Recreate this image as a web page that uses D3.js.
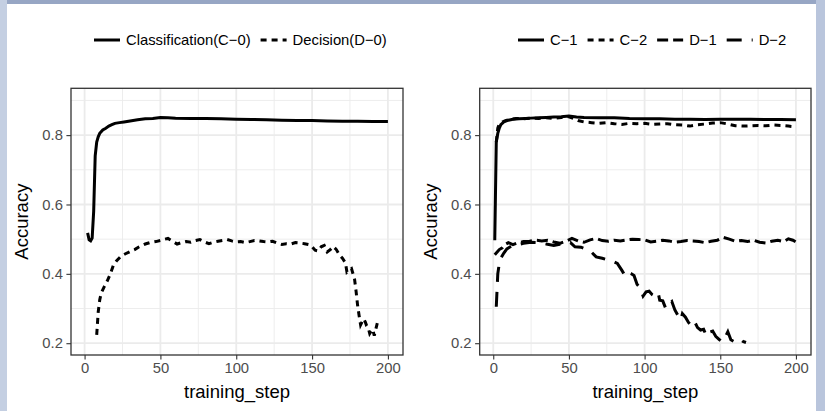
<!DOCTYPE html>
<html>
<head>
  <meta charset="utf-8">
  <title>Accuracy by training step</title>
  <script src="https://cdn.jsdelivr.net/npm/d3@7"></script>
  <style>
    body { margin: 0; background: #fff; }
    text { font-family: "Liberation Sans", Arial, sans-serif; }
  </style>
</head>
<body>
  <svg width="825" height="411" id="chart"></svg>
  <script>
    // ---- data ----
    const xTicks = [0, 50, 100, 150, 200];
    const yTicks = [0.2, 0.4, 0.6, 0.8];
    const xMinor = [25, 75, 125, 175];
    const yMinor = [0.3, 0.5, 0.7, 0.9];

    // left panel
    const c0Step = [2, 3, 4, 5, 6, 7, 8, 9, 10, 12, 14, 16, 18, 20, 23, 26, 30, 35, 40, 45, 50, 55, 60, 70, 80, 90, 100, 110, 120, 130, 140, 150, 160, 170, 180, 190, 200];
    const c0Acc = [0.518, 0.498, 0.495, 0.503, 0.58, 0.74, 0.78, 0.795, 0.805, 0.815, 0.82, 0.826, 0.830, 0.834, 0.836, 0.838, 0.841, 0.844, 0.847, 0.848, 0.851, 0.850, 0.849, 0.848, 0.848, 0.847, 0.846, 0.845, 0.844, 0.843, 0.842, 0.842, 0.841, 0.840, 0.840, 0.839, 0.839];

    const d0Step = [8, 9, 10, 11, 13, 15, 17, 19, 21, 24, 27, 30, 33, 36, 40, 43, 47, 50, 53, 55, 58, 61, 64, 67, 70, 73, 76, 79, 82, 85, 88, 91, 94, 97, 100, 103, 106, 109, 112, 115, 118, 121, 124, 127, 130, 133, 136, 139, 142, 145, 148, 150, 152, 154, 156, 158, 160, 162, 164, 166, 168, 170, 172, 173, 175, 176, 178, 179, 180, 181, 182, 183, 184, 185, 186, 187, 188, 189, 190, 191, 192, 193];
    const d0Acc = [0.224, 0.29, 0.325, 0.345, 0.363, 0.38, 0.40, 0.425, 0.437, 0.451, 0.458, 0.464, 0.47, 0.478, 0.486, 0.49, 0.493, 0.496, 0.500, 0.502, 0.494, 0.486, 0.49, 0.493, 0.491, 0.496, 0.499, 0.492, 0.487, 0.491, 0.494, 0.496, 0.499, 0.495, 0.492, 0.493, 0.49, 0.493, 0.496, 0.495, 0.493, 0.492, 0.494, 0.489, 0.485, 0.487, 0.486, 0.49, 0.489, 0.487, 0.484, 0.478, 0.468, 0.466, 0.478, 0.482, 0.463, 0.47, 0.479, 0.47, 0.455, 0.445, 0.432, 0.405, 0.412, 0.415, 0.385, 0.35, 0.31, 0.28, 0.253, 0.262, 0.27, 0.262, 0.25, 0.245, 0.228, 0.235, 0.24, 0.222, 0.24, 0.258];

    // right panel
    const c1Step = [1, 2, 3, 4, 5, 7, 10, 13, 17, 21, 25, 30, 35, 40, 45, 50, 55, 60, 70, 80, 90, 100, 110, 120, 130, 140, 150, 160, 170, 180, 190, 200];
    const c1Acc = [0.497, 0.78, 0.805, 0.82, 0.83, 0.838, 0.843, 0.846, 0.847, 0.848, 0.849, 0.850, 0.851, 0.852, 0.853, 0.855, 0.852, 0.851, 0.850, 0.850, 0.848, 0.847, 0.847, 0.846, 0.846, 0.845, 0.846, 0.846, 0.846, 0.845, 0.845, 0.844];

    const c2Step = [2, 3, 4, 6, 8, 11, 15, 20, 25, 30, 35, 40, 45, 50, 53, 56, 60, 65, 70, 75, 80, 85, 90, 95, 100, 105, 110, 115, 120, 125, 130, 135, 140, 145, 150, 155, 160, 165, 170, 175, 180, 185, 190, 195, 200];
    const c2Acc = [0.78, 0.82, 0.832, 0.838, 0.842, 0.845, 0.848, 0.847, 0.849, 0.848, 0.85, 0.848, 0.851, 0.853, 0.848, 0.842, 0.838, 0.836, 0.834, 0.836, 0.833, 0.831, 0.834, 0.833, 0.834, 0.831, 0.832, 0.833, 0.830, 0.829, 0.826, 0.83, 0.832, 0.835, 0.836, 0.832, 0.827, 0.826, 0.827, 0.828, 0.827, 0.829, 0.828, 0.826, 0.824];

    const d1Step = [1, 2, 4, 6, 8, 10, 13, 16, 20, 24, 28, 32, 36, 40, 44, 48, 52, 56, 60, 64, 68, 72, 76, 80, 84, 88, 92, 96, 100, 104, 108, 112, 116, 120, 124, 128, 132, 136, 140, 144, 148, 152, 156, 160, 164, 168, 172, 176, 180, 184, 188, 192, 195, 198, 200];
    const d1Acc = [0.455, 0.46, 0.47, 0.475, 0.485, 0.49, 0.484, 0.489, 0.493, 0.494, 0.497, 0.495, 0.497, 0.492, 0.488, 0.494, 0.502, 0.495, 0.491, 0.498, 0.502, 0.496, 0.494, 0.497, 0.495, 0.498, 0.5, 0.499, 0.498, 0.492, 0.494, 0.497, 0.495, 0.491, 0.493, 0.496, 0.495, 0.493, 0.49, 0.494, 0.497, 0.505, 0.5, 0.494, 0.496, 0.493, 0.497, 0.491, 0.489, 0.494, 0.497, 0.493, 0.501, 0.497, 0.492];

    const d2Step = [2, 3, 4, 5, 7, 9, 12, 16, 20, 25, 30, 35, 40, 44, 48, 51, 54, 58, 62, 65, 68, 72, 76, 79, 82, 85, 87, 89, 91, 93, 95, 97, 99, 101, 103, 105, 107, 109, 110, 112, 114, 116, 118, 120, 122, 124, 125, 127, 129, 131, 133, 135, 137, 139, 141, 143, 145, 147, 149, 151, 153, 155, 157, 159, 161, 163, 165, 167];
    const d2Acc = [0.305, 0.40, 0.43, 0.445, 0.46, 0.472, 0.48, 0.484, 0.488, 0.491, 0.49, 0.486, 0.482, 0.485, 0.488, 0.49, 0.478, 0.477, 0.47, 0.462, 0.449, 0.445, 0.44, 0.436, 0.43, 0.41, 0.395, 0.405, 0.401, 0.395, 0.37, 0.36, 0.336, 0.348, 0.35, 0.34, 0.335, 0.345, 0.324, 0.322, 0.30, 0.312, 0.32, 0.296, 0.28, 0.267, 0.285, 0.275, 0.26, 0.25, 0.262, 0.245, 0.238, 0.24, 0.22, 0.232, 0.235, 0.22, 0.212, 0.204, 0.215, 0.233, 0.21, 0.205, 0.21, 0.212, 0.205, 0.202];

    const leftNames = ["Classification(C\u22120)", "Decision(D\u22120)"];
    const rightNames = ["C\u22121", "C\u22122", "D\u22121", "D\u22122"];

    // ---- styles ----
    const dash = { solid: null, dotted: "6,5", dashed: "11,5", longdash: "15,10" };
    const lineW = 3;

    const svg = d3.select("#chart");

    // bluish screenshot frame
    svg.append("rect").attr("width", 825).attr("height", 411).attr("fill", "#fff");
    svg.append("rect").attr("x", 0).attr("y", 0).attr("width", 825).attr("height", 4).attr("fill", "#97a6c4");
    svg.append("rect").attr("x", 0).attr("y", 0).attr("width", 7).attr("height", 411).attr("fill", "#c4cfe2");
    svg.append("rect").attr("x", 816).attr("y", 0).attr("width", 9).attr("height", 411).attr("fill", "#b9c5dc");

    const series = (step, acc, type) => ({ pts: step.map((s, i) => [s, acc[i]]), type });

    function panel(left, right, data) {
      const top = 88.3, bottom = 355;
      const x = d3.scaleLinear().domain([-8.95, 209.95]).range([left, right]);
      const y = d3.scaleLinear().domain([0.166, 0.935]).range([bottom, top]);
      const g = svg.append("g");

      // minor grid
      g.selectAll(".gx-minor").data(xMinor).join("line")
        .attr("x1", d => x(d)).attr("x2", d => x(d)).attr("y1", top).attr("y2", bottom)
        .attr("stroke", "#ebebeb").attr("stroke-width", 0.9);
      g.selectAll(".gy-minor").data(yMinor).join("line")
        .attr("y1", d => y(d)).attr("y2", d => y(d)).attr("x1", left).attr("x2", right)
        .attr("stroke", "#ebebeb").attr("stroke-width", 0.9);
      // major grid
      g.selectAll(".gx").data(xTicks).join("line")
        .attr("x1", d => x(d)).attr("x2", d => x(d)).attr("y1", top).attr("y2", bottom)
        .attr("stroke", "#ebebeb").attr("stroke-width", 1.8);
      g.selectAll(".gy").data(yTicks).join("line")
        .attr("y1", d => y(d)).attr("y2", d => y(d)).attr("x1", left).attr("x2", right)
        .attr("stroke", "#ebebeb").attr("stroke-width", 1.8);

      const line = d3.line().x(d => x(d[0])).y(d => y(d[1]));
      g.selectAll(".series").data(data).join("path")
        .attr("d", d => line(d.pts))
        .attr("fill", "none").attr("stroke", "#000")
        .attr("stroke-width", lineW)
        .attr("stroke-dasharray", d => dash[d.type]);

      // border
      g.append("rect").attr("x", left).attr("y", top)
        .attr("width", right - left).attr("height", bottom - top)
        .attr("fill", "none").attr("stroke", "#333").attr("stroke-width", 1.3);

      // axes
      const xa = g.append("g").attr("transform", `translate(0,${bottom})`)
        .call(d3.axisBottom(x).tickValues(xTicks).tickSize(4.6).tickPadding(3).tickFormat(d3.format("d")));
      const ya = g.append("g").attr("transform", `translate(${left},0)`)
        .call(d3.axisLeft(y).tickValues(yTicks).tickSize(4.6).tickPadding(3.5).tickFormat(d3.format(".1f")));
      [xa, ya].forEach(a => {
        a.select(".domain").remove();
        a.selectAll(".tick line").attr("stroke", "#333").attr("stroke-width", 1.1);
        a.selectAll(".tick text").attr("fill", "#4d4d4d")
          .style("font-family", "'Liberation Sans', Arial, sans-serif").style("font-size", "14.8px");
      });

      g.append("text").attr("x", (left + right) / 2).attr("y", 398)
        .attr("text-anchor", "middle").style("font-size", "18.5px").text("training_step");
      g.append("text").attr("transform", `translate(${left - 43},${(top + bottom) / 2}) rotate(-90)`)
        .attr("text-anchor", "middle").style("font-size", "18.5px").text("Accuracy");
    }

    function legend(x0, names, types) {
      const g = svg.append("g").attr("transform", "translate(0,40)");
      let x = x0;
      names.forEach((n, i) => {
        g.append("line").attr("x1", x).attr("x2", x + 26).attr("y1", 0).attr("y2", 0)
          .attr("stroke", "#000").attr("stroke-width", lineW)
          .attr("stroke-dasharray", dash[types[i]]);
        x += 26 + 6;
        const t = g.append("text").attr("x", x).attr("y", 5.3)
          .style("font-size", "14.8px").text(n);
        x += t.node().getComputedTextLength() + 10;
      });
    }

    panel(71, 403, [series(c0Step, c0Acc, "solid"), series(d0Step, d0Acc, "dotted")]);
    panel(479.7, 811, [
      series(c1Step, c1Acc, "solid"), series(c2Step, c2Acc, "dotted"),
      series(d1Step, d1Acc, "dashed"), series(d2Step, d2Acc, "longdash")
    ]);

    legend(94, leftNames, ["solid", "dotted"]);
    legend(518, rightNames, ["solid", "dotted", "dashed", "longdash"]);
  </script>
</body>
</html>
